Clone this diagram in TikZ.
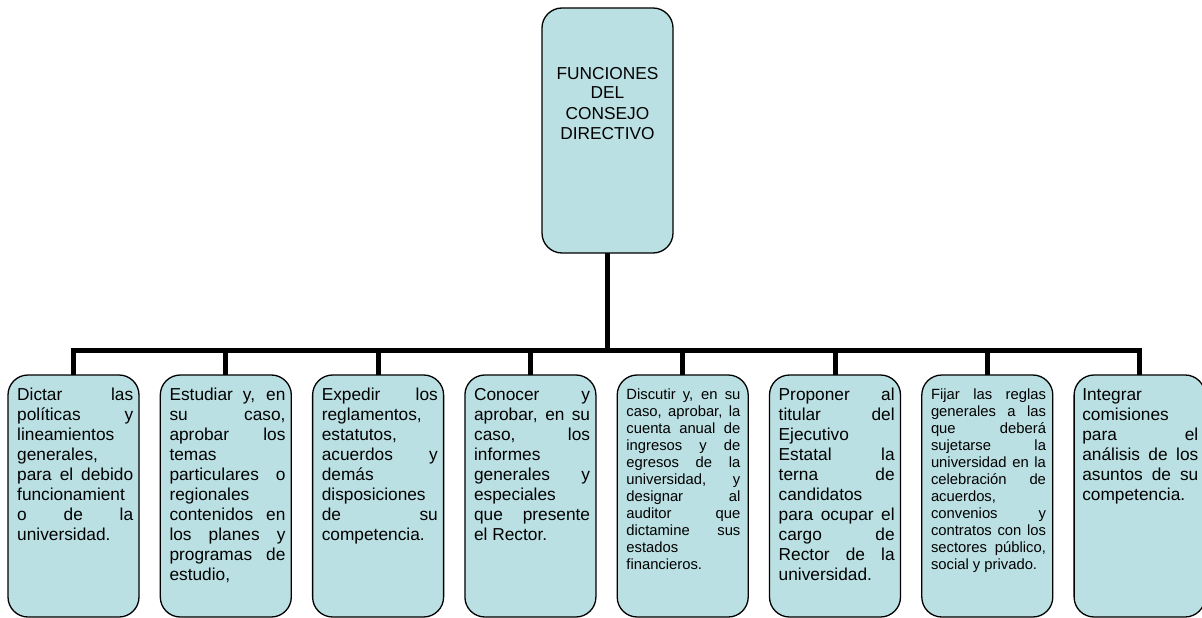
\documentclass[tikz,border=0pt]{standalone}
\usepackage{fontspec}
\setmainfont{Liberation Sans}
\definecolor{boxfill}{HTML}{BBE0E3}
\newcommand{\jline}[1]{\makebox[\linewidth][s]{#1}}
\newcommand{\bigtxt}{\fontsize{17.3}{20}\selectfont}
\newcommand{\smalltxt}{\fontsize{14.8}{17}\selectfont}
\begin{document}
\begin{tikzpicture}[x=1pt,y=1pt,
  fbox/.style={draw=black, line width=1.3pt, fill=boxfill, rounded corners=20pt,
    minimum width=131pt, minimum height=242pt, inner sep=0pt, outer sep=0pt, anchor=north west},
  conn/.style={line width=5pt, draw=black},
  txt/.style={anchor=base west, inner sep=0pt}]
\useasboundingbox (0,0) rectangle (1202,-618);

% boxes
\node[fbox, minimum height=245pt] (top) at (542,-8) {};
\node[fbox] (c1) at (8,-375) {};
\node[fbox] (c2) at (160.3,-375) {};
\node[fbox] (c3) at (312.6,-375) {};
\node[fbox] (c4) at (464.9,-375) {};
\node[fbox] (c5) at (617.2,-375) {};
\node[fbox] (c6) at (769.5,-375) {};
\node[fbox] (c7) at (921.8,-375) {};
\node[fbox] (c8) at (1074.1,-375) {};

% connectors
\coordinate (bus) at (607.5,-350);
\draw[conn] (top.south) -- (bus);
\draw[conn] (c1.north) |- (bus) -| (c8.north);
\foreach \i in {2,...,7} {
  \draw[conn] (c\i.north) -- (c\i.north |- bus);
}

% texts
\node[anchor=base, inner sep=0pt] (ttop) at (607.5,-79) {\bigtxt\parbox[t]{125pt}{\centering
FUNCIONES\\DEL\\CONSEJO\\DIRECTIVO}};

\node[txt] (t1) at ([xshift=9pt,yshift=-25pt]c1.north west) {\bigtxt\parbox[t]{116pt}{%
\jline{Dictar las}\\
\jline{políticas y}\\
lineamientos\\
generales,\\
\jline{para el debido}\\
funcionamient\\
\jline{o de la}\\
universidad.}};

\node[txt] (t2) at ([xshift=9pt,yshift=-25pt]c2.north west) {\bigtxt\parbox[t]{116pt}{%
\jline{Estudiar y, en}\\
\jline{su caso,}\\
\jline{aprobar los}\\
temas\\
\jline{particulares o}\\
regionales\\
\jline{contenidos en}\\
\jline{los planes y}\\
\jline{programas de}\\
estudio,}};

\node[txt] (t3) at ([xshift=9pt,yshift=-25pt]c3.north west) {\bigtxt\parbox[t]{116pt}{%
\jline{Expedir los}\\
reglamentos,\\
estatutos,\\
\jline{acuerdos y}\\
demás\\
disposiciones\\
\jline{de su}\\
competencia.}};

\node[txt] (t4) at ([xshift=9pt,yshift=-25pt]c4.north west) {\bigtxt\parbox[t]{116pt}{%
\jline{Conocer y}\\
\jline{aprobar, en su}\\
\jline{caso, los}\\
informes\\
\jline{generales y}\\
especiales\\
\jline{que presente}\\
el Rector.}};

\node[txt] (t5) at ([xshift=9pt,yshift=-24pt]c5.north west) {\smalltxt\parbox[t]{114pt}{%
\jline{Discutir y, en su}\\
\jline{caso, aprobar, la}\\
\jline{cuenta anual de}\\
\jline{ingresos y de}\\
\jline{egresos de la}\\
\jline{universidad, y}\\
\jline{designar al}\\
\jline{auditor que}\\
\jline{dictamine sus}\\
estados\\
financieros.}};

\node[txt] (t6) at ([xshift=9pt,yshift=-25pt]c6.north west) {\bigtxt\parbox[t]{116pt}{%
\jline{Proponer al}\\
\jline{titular del}\\
Ejecutivo\\
\jline{Estatal la}\\
\jline{terna de}\\
candidatos\\
\jline{para ocupar el}\\
\jline{cargo de}\\
\jline{Rector de la}\\
universidad.}};

\node[txt] (t7) at ([xshift=9pt,yshift=-24pt]c7.north west) {\smalltxt\parbox[t]{115pt}{%
\jline{Fijar las reglas}\\
\jline{generales a las}\\
\jline{que deberá}\\
\jline{sujetarse la}\\
\jline{universidad en la}\\
\jline{celebración de}\\
acuerdos,\\
\jline{convenios y}\\
\jline{contratos con los}\\
\jline{sectores público,}\\
social y privado.}};

\node[txt] (t8) at ([xshift=8pt,yshift=-25pt]c8.north west) {\bigtxt\parbox[t]{116pt}{%
Integrar\\
comisiones\\
\jline{para el}\\
\jline{análisis de los}\\
\jline{asuntos de su}\\
competencia.}};
\end{tikzpicture}
\end{document}
